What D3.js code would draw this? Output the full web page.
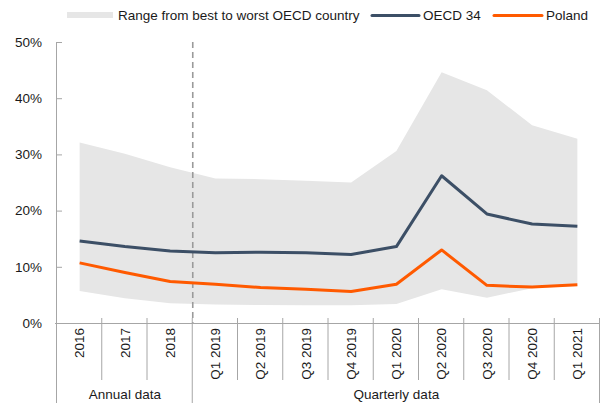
<!DOCTYPE html>
<html>
<head>
<meta charset="utf-8">
<script src="https://cdn.jsdelivr.net/npm/d3@7"></script>
<style>
  html, body { margin: 0; padding: 0; background: #fff; }
  svg { display: block; font-family: "Liberation Sans", Arial, sans-serif; }
</style>
</head>
<body>
<svg id="chart" width="602" height="406"></svg>
<script>
const categories = ["2016","2017","2018","Q1 2019","Q2 2019","Q3 2019","Q4 2019","Q1 2020","Q2 2020","Q3 2020","Q4 2020","Q1 2021"];
const oecd34 = [14.6, 13.6, 12.8, 12.5, 12.6, 12.5, 12.2, 13.6, 26.2, 19.4, 17.6, 17.2];
const poland = [10.7, 9.0, 7.4, 6.9, 6.3, 6.0, 5.6, 6.9, 13.0, 6.7, 6.4, 6.8];
const rangeMax = [32.1, 30.1, 27.7, 25.7, 25.6, 25.3, 25.0, 30.6, 44.6, 41.4, 35.2, 32.8];
const rangeMin = [5.7, 4.4, 3.5, 3.3, 3.2, 3.15, 3.15, 3.4, 6.0, 4.5, 6.2, 6.6];
const yTicks = [0, 10, 20, 30, 40, 50];
const groups = [
  { label: "Annual data", start: 0, end: 3 },
  { label: "Quarterly data", start: 3, end: 12 }
];
const legendLabels = ["Range from best to worst OECD country", "OECD 34", "Poland"];

(function () {
const colors = { range: "#e6e6e6", oecd: "#3c4f66", poland: "#ff5a00", axis: "#a6a6a6", text: "#1a1a1a" };
const fs = 13.5;

const svg = d3.select("#chart");
const pLeft = 57, pRight = 600, pTop = 42, pBottom = 323;

const x = d3.scaleBand().domain(categories).range([pLeft, pRight]).padding(0);
const y = d3.scaleLinear().domain([0, 50]).range([pBottom, pTop]);
const cx = d => x(d) + x.bandwidth() / 2;

// range area
const area = d3.area()
  .x((d, i) => cx(categories[i]))
  .y0((d, i) => y(rangeMin[i]))
  .y1((d, i) => y(rangeMax[i]));
svg.append("path").datum(categories).attr("d", area).attr("fill", colors.range);

// dashed separator in plot
const sepX = x(categories[3]);
svg.append("line")
  .attr("x1", sepX).attr("x2", sepX)
  .attr("y1", pTop).attr("y2", pBottom)
  .attr("stroke", "#9a9a9a").attr("stroke-width", 1.6)
  .attr("stroke-dasharray", "6,4");

// lines
const line = arr => d3.line().x((d, i) => cx(categories[i])).y((d, i) => y(arr[i]))(categories);
svg.append("path").attr("d", line(oecd34)).attr("fill", "none")
  .attr("stroke", colors.oecd).attr("stroke-width", 3).attr("stroke-linejoin", "round");
svg.append("path").attr("d", line(poland)).attr("fill", "none")
  .attr("stroke", colors.poland).attr("stroke-width", 3).attr("stroke-linejoin", "round");

// y axis
const yAxis = d3.axisLeft(y).tickValues(yTicks).tickSize(-5).tickPadding(15)
  .tickFormat(d => d + "%");
const gy = svg.append("g").attr("transform", `translate(${pLeft},0)`).call(yAxis);
gy.select(".domain").attr("stroke", colors.axis).attr("d", `M-0.5,${pTop}V${pBottom}`);
gy.selectAll(".tick line").attr("stroke", colors.axis);
gy.selectAll(".tick text").attr("fill", colors.text).style("font-size", fs + "px")
  .style("font-family", '"Liberation Sans", Arial, sans-serif');

// x axis line
svg.append("line").attr("x1", pLeft - 2).attr("x2", pRight).attr("y1", pBottom + 0.5).attr("y2", pBottom + 0.5)
  .attr("stroke", colors.axis);

// category tick lines
const boundaries = d3.range(categories.length + 1);
const groupEdges = new Set(groups.flatMap(g => [g.start, g.end]));
svg.selectAll(".ctick").data(boundaries).join("line")
  .attr("x1", i => i === categories.length ? pRight - 0.5 : x(categories[i]) - 0.5)
  .attr("x2", i => i === categories.length ? pRight - 0.5 : x(categories[i]) - 0.5)
  .attr("y1", i => i === 0 ? pBottom : pBottom - 5)
  .attr("y2", i => groupEdges.has(i) ? 403 : 380)
  .attr("stroke", colors.axis);

// category labels
svg.selectAll(".clabel").data(categories).join("text")
  .attr("transform", d => `translate(${cx(d)},328) rotate(-90)`)
  .attr("text-anchor", "end").attr("dy", "0.35em")
  .attr("fill", colors.text).style("font-size", fs + "px")
  .text(d => d);

// group labels
svg.selectAll(".glabel").data(groups).join("text")
  .attr("x", g => (x(categories[g.start]) + (g.end >= categories.length ? pRight : x(categories[g.end]))) / 2)
  .attr("y", 399).attr("text-anchor", "middle")
  .attr("fill", colors.text).style("font-size", fs + "px")
  .text(g => g.label);

// legend
const lg = svg.append("g");
lg.append("rect").attr("x", 67).attr("y", 12).attr("width", 46).attr("height", 6).attr("fill", colors.range);
lg.append("text").attr("x", 118).attr("y", 20).attr("fill", colors.text).style("font-size", fs + "px").text(legendLabels[0]);
lg.append("line").attr("x1", 372).attr("x2", 419).attr("y1", 15.5).attr("y2", 15.5)
  .attr("stroke", colors.oecd).attr("stroke-width", 3).attr("stroke-linecap", "round");
lg.append("text").attr("x", 423).attr("y", 20).attr("fill", colors.text).style("font-size", fs + "px").text(legendLabels[1]);
lg.append("line").attr("x1", 494).attr("x2", 542).attr("y1", 15.5).attr("y2", 15.5)
  .attr("stroke", colors.poland).attr("stroke-width", 3).attr("stroke-linecap", "round");
lg.append("text").attr("x", 546).attr("y", 20).attr("fill", colors.text).style("font-size", fs + "px").text(legendLabels[2]);
})();
</script>
</body>
</html>
